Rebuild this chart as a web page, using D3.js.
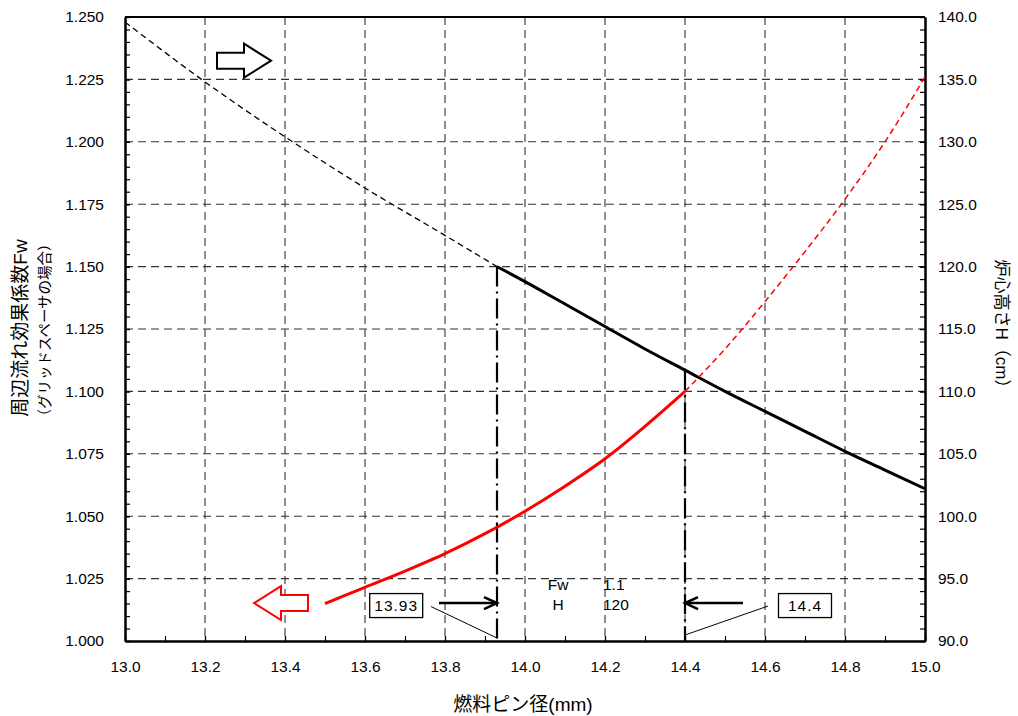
<!DOCTYPE html>
<html>
<head>
<meta charset="utf-8">
<script src="https://cdn.jsdelivr.net/npm/d3@7/dist/d3.min.js"></script>
<style>
  html, body { margin: 0; padding: 0; background: #fff; }
  svg { display: block; }
  text { font-family: "Liberation Sans", Arial, "Noto Sans CJK JP", sans-serif; fill: #000; }
  .cjk { font-family: "Liberation Sans", Arial, "Noto Sans CJK JP", sans-serif; }
</style>
</head>
<body>
<svg id="chart" width="1018" height="716"></svg>
<script>
// Fuel pin diameter (mm) vs. peripheral flow factor Fw and core height H (cm)

// Core height H — extrapolated (dashed) part
const hDashD = [13.0, 13.2, 13.4, 13.6, 13.8, 13.93];
const hDashV = [139.6, 134.8, 130.4, 126.3, 122.5, 120.0];
// Core height H — valid (solid) part
const hSolidD = [13.93, 14.0, 14.1, 14.2, 14.3, 14.4, 14.5, 14.6, 14.7, 14.8, 14.9, 15.0];
const hSolidV = [120.0, 118.8, 117.0, 115.2, 113.4, 111.7, 110.0, 108.4, 106.8, 105.2, 103.7, 102.2];

// Peripheral flow factor Fw — valid (solid) part
const fwSolidD = [13.5, 13.6, 13.7, 13.8, 13.9, 14.0, 14.1, 14.2, 14.3, 14.4];
const fwSolidV = [1.015, 1.0215, 1.028, 1.035, 1.043, 1.052, 1.062, 1.073, 1.086, 1.100];
// Peripheral flow factor Fw — extrapolated (dashed) part
const fwDashD = [14.4, 14.5, 14.6, 14.7, 14.8, 14.9, 15.0];
const fwDashV = [1.100, 1.117, 1.136, 1.156, 1.177, 1.200, 1.226];

// Limits: H = 120 cm gives 13.93 mm, Fw = 1.1 gives 14.4 mm
const limitD = [13.93, 14.4];
const limitH = [120, 111.7];
const limitLabels = ["13.93", "14.4"];
const criteriaNames = ["Fw", "H"];
const criteriaValues = ["1.1", "120"];

// Axis ticks
const xTicks = [13.0, 13.2, 13.4, 13.6, 13.8, 14.0, 14.2, 14.4, 14.6, 14.8, 15.0];
const fwTicks = [1.000, 1.025, 1.050, 1.075, 1.100, 1.125, 1.150, 1.175, 1.200, 1.225, 1.250];
const hTicks = [90, 95, 100, 105, 110, 115, 120, 125, 130, 135, 140];

const margin = { left: 125, top: 17, right: 93, bottom: 75 };
const W = 1018, H = 716;
const iw = W - margin.left - margin.right;
const ih = H - margin.top - margin.bottom;

const svg = d3.select("#chart");
const g = svg.append("g").attr("transform", `translate(${margin.left},${margin.top})`);

const x = d3.scaleLinear().domain([13.0, 15.0]).range([0, iw]);
const yL = d3.scaleLinear().domain([1.0, 1.25]).range([ih, 0]);
const yR = d3.scaleLinear().domain([90, 140]).range([ih, 0]);

// Grid
const gridStyle = sel => sel.attr("stroke", "#333").attr("stroke-width", 1.1).attr("stroke-dasharray", "8,5").attr("fill", "none");
g.append("g").selectAll("line").data(fwTicks.slice(1, -1)).join("line")
  .attr("x1", 0).attr("x2", iw).attr("y1", d => yL(d)).attr("y2", d => yL(d)).call(gridStyle);
g.append("g").selectAll("line").data(xTicks.slice(1, -1)).join("line")
  .attr("y1", 0).attr("y2", ih).attr("x1", d => x(d)).attr("x2", d => x(d)).call(gridStyle);

// Axes (ticks point inward)
const minor = (a, b, step) => d3.range(Math.round((b - a) / step) + 1).map(i => +(a + i * step).toFixed(4));
const styleAxis = sel => {
  sel.select(".domain").attr("stroke", "#000").attr("stroke-width", 2);
  sel.selectAll(".tick line").attr("stroke", "#000").attr("stroke-width", 1.2);
  sel.selectAll("text").attr("font-size", 15.5).attr("font-family", "'Liberation Sans', Arial, sans-serif").attr("fill", "#000");
};

g.append("g").attr("transform", `translate(0,${ih})`)
  .call(d3.axisBottom(x).tickValues(minor(13.0, 15.0, 0.1)).tickSize(-5).tickFormat("").tickSizeOuter(0))
  .call(styleAxis);
g.append("g").attr("transform", `translate(0,${ih})`)
  .call(d3.axisBottom(x).tickValues(xTicks).tickSize(-5).tickPadding(20).tickFormat(d3.format(".1f")).tickSizeOuter(0))
  .call(styleAxis);

g.append("g")
  .call(d3.axisLeft(yL).tickValues(minor(1.0, 1.25, 0.005)).tickSize(-5).tickFormat("").tickSizeOuter(0))
  .call(styleAxis);
g.append("g")
  .call(d3.axisLeft(yL).tickValues(fwTicks).tickSize(-5).tickPadding(21).tickFormat(d3.format(".3f")).tickSizeOuter(0))
  .call(styleAxis);

g.append("g").attr("transform", `translate(${iw},0)`)
  .call(d3.axisRight(yR).tickValues(minor(90, 140, 1)).tickSize(-5).tickFormat("").tickSizeOuter(0))
  .call(styleAxis);
g.append("g").attr("transform", `translate(${iw},0)`)
  .call(d3.axisRight(yR).tickValues(hTicks).tickSize(-5).tickPadding(13).tickFormat(d3.format(".1f")).tickSizeOuter(0))
  .call(styleAxis);

// Top frame
g.append("line").attr("x1", 0).attr("x2", iw).attr("y1", 0).attr("y2", 0).attr("stroke", "#000").attr("stroke-width", 2);

// Limit lines (dash-dot) from the H curve down to the axis
g.append("g").selectAll("line").data(limitD).join("line")
  .attr("x1", d => x(d)).attr("x2", d => x(d))
  .attr("y1", (d, i) => yR(limitH[i])).attr("y2", ih)
  .attr("stroke", "#000").attr("stroke-width", 2.2).attr("stroke-dasharray", "20,5,2,5");

// Curves
const zip = (a, b) => a.map((v, i) => [v, b[i]]);
const lineH = d3.line().x(d => x(d[0])).y(d => yR(d[1])).curve(d3.curveMonotoneX);
const lineF = d3.line().x(d => x(d[0])).y(d => yL(d[1])).curve(d3.curveMonotoneX);

g.append("path").attr("d", lineH(zip(hDashD, hDashV)))
  .attr("fill", "none").attr("stroke", "#000").attr("stroke-width", 1.3).attr("stroke-dasharray", "6,4");
g.append("path").attr("d", lineH(zip(hSolidD, hSolidV)))
  .attr("fill", "none").attr("stroke", "#000").attr("stroke-width", 3);
g.append("path").attr("d", lineF(zip(fwDashD, fwDashV)))
  .attr("fill", "none").attr("stroke", "#ff0000").attr("stroke-width", 1.5).attr("stroke-dasharray", "6,4");
g.append("path").attr("d", lineF(zip(fwSolidD, fwSolidV)))
  .attr("fill", "none").attr("stroke", "#ff0000").attr("stroke-width", 3);

// Hollow block arrows indicating which axis each curve uses
function blockArrow(tx, ty, dir, color) {
  // dir = +1 points right, -1 points left
  const head = 27, len = 54, hh = 17, sh = 8;
  const p = [
    [0, 0], [-dir * head, -hh], [-dir * head, -sh], [-dir * len, -sh],
    [-dir * len, sh], [-dir * head, sh], [-dir * head, hh]
  ].map(([a, b]) => [tx + a, ty + b]);
  g.append("polygon").attr("points", p.map(q => q.join(",")).join(" "))
    .attr("fill", "#fff").attr("stroke", color).attr("stroke-width", 2).attr("stroke-linejoin", "miter");
}
blockArrow(x(13.365), yL(1.2325), 1, "#000");
blockArrow(x(13.3225), yL(1.0152), -1, "#ff0000");

// Pointer arrows to the limit lines
function pointer(fromD, toD, fw) {
  const x0 = x(fromD), x1 = x(toD), yy = yL(fw);
  const dir = Math.sign(x1 - x0);
  g.append("line").attr("x1", x0).attr("x2", x1 - dir * 2).attr("y1", yy).attr("y2", yy)
    .attr("stroke", "#000").attr("stroke-width", 2.5);
  g.append("path")
    .attr("d", `M${x1 - dir * 13},${yy - 6} L${x1},${yy} L${x1 - dir * 13},${yy + 6}`)
    .attr("fill", "none").attr("stroke", "#000").attr("stroke-width", 2.5).attr("stroke-linejoin", "miter");
}
pointer(13.785, limitD[0], 1.0152);
pointer(14.545, limitD[1], 1.0152);

// Value boxes with leader lines
const boxes = [
  { d: 13.678, leader: [[13.765, 1.0138], [limitD[0], 1.0012]] },
  { d: 14.700, leader: [[14.6075, 1.0140], [limitD[1], 1.0024]] }
];
boxes.forEach((b, i) => {
  const cx = x(b.d), cy = yL(1.0142);
  const bw = 53, bh = 24;
  g.append("rect").attr("x", cx - bw / 2).attr("y", cy - bh / 2).attr("width", bw).attr("height", bh)
    .attr("fill", "#fff").attr("stroke", "#000").attr("stroke-width", 1.3);
  g.append("text").attr("x", cx).attr("y", cy + 5.5).attr("text-anchor", "middle")
    .attr("font-size", 15.5).attr("letter-spacing", "1px").text(limitLabels[i]);
  g.append("line")
    .attr("x1", x(b.leader[0][0])).attr("y1", yL(b.leader[0][1]))
    .attr("x2", x(b.leader[1][0])).attr("y2", yL(b.leader[1][1]))
    .attr("stroke", "#000").attr("stroke-width", 1);
});

// Design criteria
criteriaNames.forEach((n, i) => {
  const yy = yL(1.0205 - i * 0.0082);
  g.append("text").attr("x", x(14.083)).attr("y", yy).attr("text-anchor", "middle").attr("font-size", 15.5).text(n);
  g.append("text").attr("x", x(14.195)).attr("y", yy).attr("text-anchor", "start").attr("font-size", 15.5).text(criteriaValues[i]);
});

// Axis titles
svg.append("text").attr("class", "cjk").attr("transform", "translate(27,328) rotate(-90)")
  .attr("text-anchor", "middle").attr("font-size", 19).text("周辺流れ効果係数Fw");
svg.append("text").attr("class", "cjk").attr("transform", "translate(50,330) rotate(-90)")
  .attr("text-anchor", "middle").attr("font-size", 14.5).text("（グリッドスペーサの場合）");
svg.append("text").attr("class", "cjk").attr("transform", "translate(996,328) rotate(90)")
  .attr("text-anchor", "middle").attr("font-size", 17).text("炉心高さH（cm）");
svg.append("text").attr("class", "cjk").attr("x", 523).attr("y", 711)
  .attr("text-anchor", "middle").attr("font-size", 19).text("燃料ピン径(mm)");
</script>
</body>
</html>
